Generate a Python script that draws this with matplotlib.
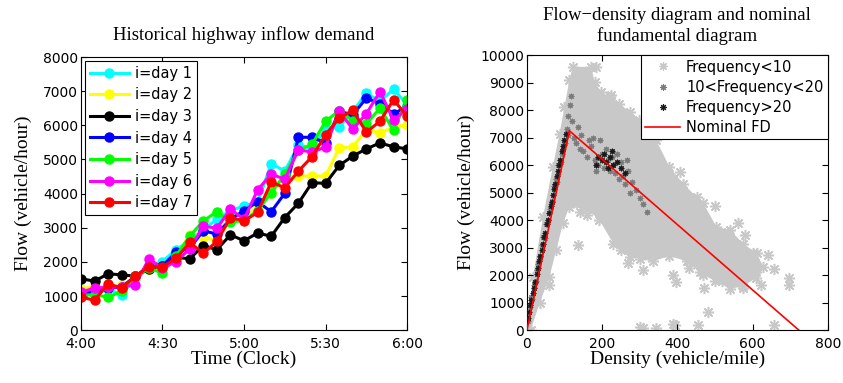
import matplotlib
matplotlib.use("Agg")
import matplotlib.pyplot as plt

# ---- left panel: inflow demand, one point every 5 minutes from 4:00 to 6:00
minutes = list(range(0, 125, 5))
xtick_pos = [0, 30, 60, 90, 120]
xtick_lab = ['4:00', '4:30', '5:00', '5:30', '6:00']

day1 = [1100, 1070, 1195, 1040, 1505, 1815, 2010, 2360, 2620, 2940, 3250, 3500, 3640,
        3740, 4880, 4660, 5410, 5340, 5890, 5950, 6410, 6940, 6700, 7060, 6600]
day2 = [1195, 1290, 1260, 1310, 1525, 1800, 1750, 2165, 2790, 2720, 2620, 3250, 3250,
        3640, 4030, 4500, 4515, 4515, 4515, 5340, 5370, 5870, 5780, 5950, 6020]
day3 = [1505, 1437, 1650, 1620, 1580, 1800, 1890, 2135, 2090, 2475, 2360, 2790, 2620,
        2845, 2750, 3300, 3720, 4320, 4300, 4825, 5100, 5310, 5485, 5370, 5310]
day4 = [1070, 1115, 1230, 1260, 1580, 1860, 1890, 2280, 2400, 2910, 2815, 3250, 3500,
        3760, 3470, 4010, 5650, 5650, 5485, 6410, 6310, 6800, 6630, 6340, 6550]
day5 = [1020, 1040, 970, 1135, 1580, 1815, 1670, 2180, 2750, 3200, 3470, 3155, 3220,
        3500, 4030, 4560, 5270, 5440, 6120, 6430, 6140, 6050, 6500, 5850, 6750]
day6 = [1115, 1230, 1260, 1260, 1330, 2090, 1815, 2010, 2380, 3040, 2990, 3540, 3250,
        4110, 4570, 4420, 5290, 5210, 5370, 6410, 5890, 6340, 6990, 6150, 6490]
day7 = [970, 875, 1360, 1230, 1580, 1860, 1860, 2100, 2570, 2250, 2600, 3300, 3200,
        3450, 4340, 4170, 4660, 5080, 5730, 6210, 6440, 5800, 6120, 6750, 6260]
days = [day1, day2, day3, day4, day5, day6, day7]
day_labels = ['i=day 1', 'i=day 2', 'i=day 3', 'i=day 4', 'i=day 5', 'i=day 6', 'i=day 7']
day_colors = ['#00ffff', '#ffff00', '#000000', '#0000ff', '#00ff00', '#ff00ff', '#ff0000']

# ---- right panel: flow-density samples
# outline of the dense light-gray cloud (density, flow)
cloud_d = [0, 16, 43, 69, 87, 100, 113, 122, 171, 180, 198, 220, 246, 273, 299, 330,
           344, 379, 415, 451, 469, 504, 540, 575, 611, 629, 610, 575, 540, 500, 469,
           425, 379, 335, 300, 273, 230, 193, 160, 113, 96, 78, 60, 34, 10]
cloud_f = [60, 1940, 4120, 5940, 7150, 8120, 9090, 9575, 9575, 9030, 8660, 8480, 8240,
           7940, 7640, 7300, 6900, 5940, 5330, 4850, 4610, 3760, 3640, 3150, 2790, 2300,
           1900, 1600, 1500, 1800, 2000, 2500, 2700, 2500, 2600, 2670, 3150, 4000, 4400,
           4480, 3880, 2910, 1940, 980, 0]

# isolated light-gray samples
low_d = [60, 136, 183, 224, 406, 308, 472, 481, 574, 601, 605, 623, 640, 658, 698, 698,
         658, 454, 389, 344, 300, 309, 397, 388, 534, 580, 610, 394, 140, 160, 150, 250,
         270, 430, 460, 520, 500, 560]
low_f = [1640, 3090, 9575, 8545, 5760, 2180, 1515, 667, 1515, 2790, 2060, 1640, 2730,
         2240, 1890, 1640, 180, 180, 218, 60, 100, 60, 1760, 2000, 3570, 3450, 2120, 180,
         4300, 4200, 4500, 2900, 2450, 2250, 2100, 1800, 4500, 3900]

# samples seen 10-20 times
mid_d = [4, 8, 14, 19, 24, 30, 36, 41, 47, 52, 57, 63, 68, 73, 79, 84, 90, 95, 101, 106,
         110, 115, 120, 125, 130, 135, 140, 150, 160, 170, 175, 180, 190, 195, 200, 205,
         210, 215, 220, 225, 230, 235, 240, 245, 250, 255, 260, 270, 280, 290, 300, 310,
         320, 12, 27, 44, 61, 77, 93, 108, 118, 145, 165, 185, 265, 275]
mid_f = [350, 850, 1150, 1650, 1800, 2400, 2650, 3100, 3350, 3850, 4000, 4600, 4700, 5250,
         5400, 6000, 6100, 6600, 6800, 7300, 7800, 8200, 7600, 7000, 6800, 7400, 6600,
         6500, 6300, 6700, 7000, 6200, 6000, 6900, 6400, 5900, 6600, 6200, 5800, 6300,
         6000, 5700, 6400, 5500, 6100, 5600, 5300, 5800, 5400, 5100, 4800, 4600, 4300,
         1200, 2200, 3400, 4400, 5500, 6400, 7100, 8500, 7100, 6900, 5800, 6200, 5000]

# samples seen more than 20 times
high_d = [3, 6, 9, 12, 16, 19, 22, 26, 29, 33, 36, 39, 43, 46, 49, 53, 56, 59, 63, 66,
          69, 73, 76, 79, 83, 86, 89, 93, 96, 99, 103, 200, 210, 220, 230, 215, 240, 190,
          225, 205, 250, 260, 185]
high_f = [450, 650, 900, 1100, 1350, 1550, 1750, 2050, 2250, 2500, 2700, 2900, 3150, 3400,
          3550, 3850, 4000, 4250, 4500, 4650, 4900, 5150, 5300, 5600, 5800, 6000, 6200,
          6500, 6700, 6900, 7150, 6200, 6100, 6300, 6000, 5900, 6100, 6300, 6500, 6400,
          5900, 5700, 6000]

# nominal fundamental diagram
fd_d = [0, 113, 723]
fd_f = [0, 7250, 0]

sans = ['DejaVu Sans']
serif = ['Liberation Serif', 'DejaVu Serif']
plt.rcParams['font.family'] = sans
plt.rcParams['xtick.direction'] = 'in'
plt.rcParams['ytick.direction'] = 'in'
plt.rcParams['xtick.top'] = True
plt.rcParams['ytick.right'] = True

fig = plt.figure(figsize=(8.43, 3.83), dpi=100)
ax1 = fig.add_axes([0.096, 0.138, 0.387, 0.713])
ax2 = fig.add_axes([0.625, 0.138, 0.357, 0.718])

for vals, lab, col in zip(days, day_labels, day_colors):
    ax1.plot(minutes, vals, '-o', color=col, lw=2.2, ms=6.5, label=lab)
ax1.set_xlim(0, 120)
ax1.set_ylim(0, 8000)
ax1.set_xticks(xtick_pos)
ax1.set_xticklabels(xtick_lab)
ax1.set_yticks(range(0, 8001, 1000))
ax1.set_title('Historical highway inflow demand', family=serif, fontsize=13.5, pad=12)
ax1.set_xlabel('Time (Clock)', family=serif, fontsize=14, labelpad=0)
ax1.set_ylabel('Flow (vehicle/hour)', family=serif, fontsize=14, labelpad=8)
leg1 = ax1.legend(loc='upper left', fontsize=10.5, handlelength=2.7, labelspacing=0.45,
                  borderaxespad=0.25, borderpad=0.35, handletextpad=0.4, fancybox=False,
                  edgecolor='black', framealpha=1)
leg1.get_frame().set_linewidth(0.8)

light = '#c8c8c8'
ast = (8, 2, 0)
ax2.fill(cloud_d, cloud_f, color=light, lw=0, zorder=1)
ax2.plot(cloud_d, cloud_f, ls='none', marker=ast, mec=light, mfc=light, mew=1.1, ms=8,
         zorder=1)
ax2.plot(low_d, low_f, ls='none', marker=ast, mec=light, mfc=light, mew=1.1, ms=8,
         zorder=1, label='Frequency<10')
ax2.plot(mid_d, mid_f, ls='none', marker=ast, mec='#7a7a7a', mfc='#7a7a7a', mew=0.8, ms=4,
         zorder=2, label='10<Frequency<20')
ax2.plot(high_d, high_f, ls='none', marker=ast, mec='#1a1a1a', mfc='#1a1a1a', mew=0.8,
         ms=4, zorder=3, label='Frequency>20')
ax2.plot(fd_d, fd_f, '-', color='#ff0000', lw=1.2, zorder=4, label='Nominal FD')
ax2.set_xlim(0, 800)
ax2.set_ylim(0, 10000)
ax2.set_xticks(range(0, 801, 200))
ax2.set_yticks(range(0, 10001, 1000))
ax2.set_title('Flow\u2212density diagram and nominal\nfundamental diagram', family=serif,
              fontsize=13.5, pad=10, linespacing=1.25)
ax2.set_xlabel('Density (vehicle/mile)', family=serif, fontsize=14, labelpad=0)
ax2.set_ylabel('Flow (vehicle/hour)', family=serif, fontsize=14, labelpad=4)
leg2 = ax2.legend(loc='upper right', fontsize=10.5, handlelength=2.4, labelspacing=0.35,
                  borderaxespad=0, borderpad=0.3, handletextpad=0.4, fancybox=False,
                  edgecolor='black', framealpha=1, markerscale=1.2)
leg2.get_frame().set_linewidth(0.8)
leg2.legend_handles[0].set_markersize(6)
leg2.legend_handles[0].set_markeredgewidth(0.9)

for ax in (ax1, ax2):
    ax.tick_params(labelsize=10, length=4, width=0.8, pad=2)
    ax.tick_params(axis='x', pad=5)
    for s in ax.spines.values():
        s.set_linewidth(0.8)

fig.savefig('out.png', dpi=100)
